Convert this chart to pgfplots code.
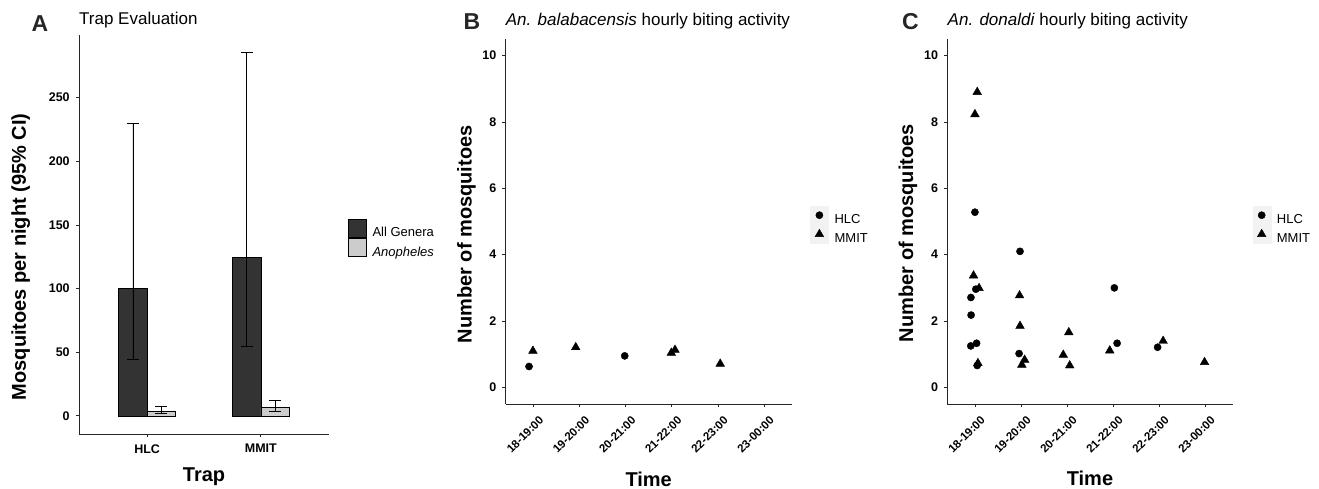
\documentclass[border=0pt]{standalone}
\usepackage{fontspec}
\setmainfont{Liberation Sans}
\usepackage{pgfplots}
\pgfplotsset{compat=1.18}

\definecolor{darkbar}{HTML}{333333}
\definecolor{lightbar}{HTML}{CCCCCC}
\definecolor{keybg}{HTML}{F2F2F2}

\newcommand{\fs}[1]{\fontsize{#1}{#1}\selectfont}

\pgfplotsset{
  gg/.style={
    scale only axis,
    axis x line=bottom, axis y line=left,
    axis line style={-, line width=0.9pt, black!85},
    tick align=outside, major tick length=3.3pt,
    tick style={line width=0.8pt, black!85},
    tick label style={font=\bfseries\fs{12.5}, text=black},
    yticklabel style={xshift=-2.5pt},
    /pgf/number format/assume math mode=true,
    xlabel style={font=\bfseries\fs{20}, anchor=base},
    ylabel style={font=\bfseries\fs{20}, anchor=base},
    legend style={draw=none, fill=none, inner sep=0pt, row sep=0pt,
      column sep=6pt, font=\fs{13}, nodes={inner sep=0pt}, anchor=north west},
    legend cell align=left,
  },
  pts/.style={
    xmin=0.4, xmax=6.6, ymin=-0.5, ymax=10.5,
    xtick={1,...,6},
    xticklabels={18-19:00,19-20:00,20-21:00,21-22:00,22-23:00,23-00:00},
    ytick={0,2,...,10},
    xticklabel style={font=\bfseries\fs{11.5}, xshift=5pt, yshift=-3pt,
      rotate=45, anchor=north east},
    xlabel={Time},
    ylabel={Number of mosquitoes},
    legend image code/.code={
      \fill[keybg] (0pt,-4.5pt) rectangle (18pt,13.5pt);
      \draw[##1] plot coordinates {(9pt,4.5pt)};},
  },
  ci/.style={
    error bars/.cd, y dir=both, y explicit,
    error mark options={rotate=90, mark size=6pt, line width=0.8pt, black},
    error bar style={line width=0.8pt, black}},
}

\begin{document}
\begin{tikzpicture}
\path[use as bounding box] (0,0) rectangle (1319pt,489pt);

% A: trap evaluation
\begin{axis}[gg, at={(79pt,55pt)}, anchor=south west, width=250pt, height=399pt,
  xmin=0.4, xmax=2.6, ymin=-14.25, ymax=299.25,
  xtick={1,2}, xticklabels={HLC,MMIT}, ytick={0,50,...,250},
  xticklabel style={yshift=-3.5pt},
  xlabel={Trap}, xlabel style={at={(axis description cs:0.5,-0.1195)}},
  ylabel={Mosquitoes per night (95\% CI)},
  ylabel style={at={(axis description cs:-0.212,0.444)}},
  legend style={at={(axis description cs:1.075,0.539)}},
  legend image code/.code={\draw[#1] (0pt,-4.5pt) rectangle (18pt,13.5pt);},
]
\addplot[ybar, bar shift=0pt, bar width=0.25, fill=darkbar, draw=black, line width=0.6pt, ci]
  coordinates {(0.875,100) += (0,129.4) -= (0,55.9)
               (1.875,124.3) += (0,161.2) -= (0,70.0)};
\addlegendentry{All Genera}
\addplot[ybar, bar shift=0pt, bar width=0.25, fill=lightbar, draw=black, line width=0.6pt, ci]
  coordinates {(1.125,3.9) += (0,3.4) -= (0,2.1)
               (2.125,6.5) += (0,5.3) -= (0,3.1)};
\addlegendentry{\textit{Anopheles}}
\end{axis}

% B: An. balabacensis
\begin{axis}[gg, pts, at={(505.7pt,85pt)}, anchor=south west, width=286pt, height=365pt,
  xlabel style={at={(axis description cs:0.5,-0.2247)}},
  ylabel style={at={(axis description cs:-0.119,0.465)}},
  legend style={at={(axis description cs:1.064,0.543)}},
]
\addplot[only marks, mark=*, mark size=3.6pt, black]
  coordinates {(0.906,0.63) (2.98,0.95)};
\addlegendentry{HLC}
\addplot[only marks, mark=triangle*, mark size=5pt, black]
  coordinates {(0.99,1.10) (1.918,1.21) (3.99,1.04) (4.07,1.13) (5.05,0.71)};
\addlegendentry{MMIT}
\end{axis}

% C: An. donaldi
\begin{axis}[gg, pts, at={(947.3pt,85pt)}, anchor=south west, width=285.3pt, height=365pt,
  xlabel style={at={(axis description cs:0.5,-0.222)}},
  ylabel style={at={(axis description cs:-0.120,0.468)}},
  legend style={at={(axis description cs:1.069,0.543)}},
]
\addplot[only marks, mark=*, mark size=3.6pt, black]
  coordinates {(0.913,2.71) (0.917,2.18) (0.91,1.25) (1.0,5.28) (1.02,2.96)
               (1.036,1.33) (1.05,0.66) (1.98,4.10) (1.96,1.02) (4.03,3.0)
               (4.09,1.33) (4.97,1.21)};
\addlegendentry{HLC}
\addplot[only marks, mark=triangle*, mark size=5pt, black]
  coordinates {(1.05,8.90) (1.0,8.23) (0.97,3.37) (1.09,2.99) (1.065,0.73)
               (1.97,2.77) (1.98,1.85) (2.08,0.83) (2.02,0.68) (3.04,1.66)
               (2.92,0.98) (3.06,0.66) (3.93,1.11) (5.09,1.40) (5.99,0.76)};
\addlegendentry{MMIT}
\end{axis}

% panel letters and titles
\node[anchor=base west, inner sep=0pt, font=\bfseries\fs{23}, text=black!85] at (31.5pt,457.3pt) {A};
\node[anchor=base west, inner sep=0pt, font=\fs{17}] at (79pt,464pt) {Trap Evaluation};
\node[anchor=base west, inner sep=0pt, font=\bfseries\fs{23}, text=black!85] at (463.3pt,459pt) {B};
\node[anchor=base west, inner sep=0pt, font=\fs{17}] at (505.7pt,463.5pt) {\textit{An. balabacensis} hourly biting activity};
\node[anchor=base west, inner sep=0pt, font=\bfseries\fs{23}, text=black!85] at (902pt,459pt) {C};
\node[anchor=base west, inner sep=0pt, font=\fs{17}] at (947.5pt,463.5pt) {\textit{An. donaldi} hourly biting activity};
\end{tikzpicture}
\end{document}
